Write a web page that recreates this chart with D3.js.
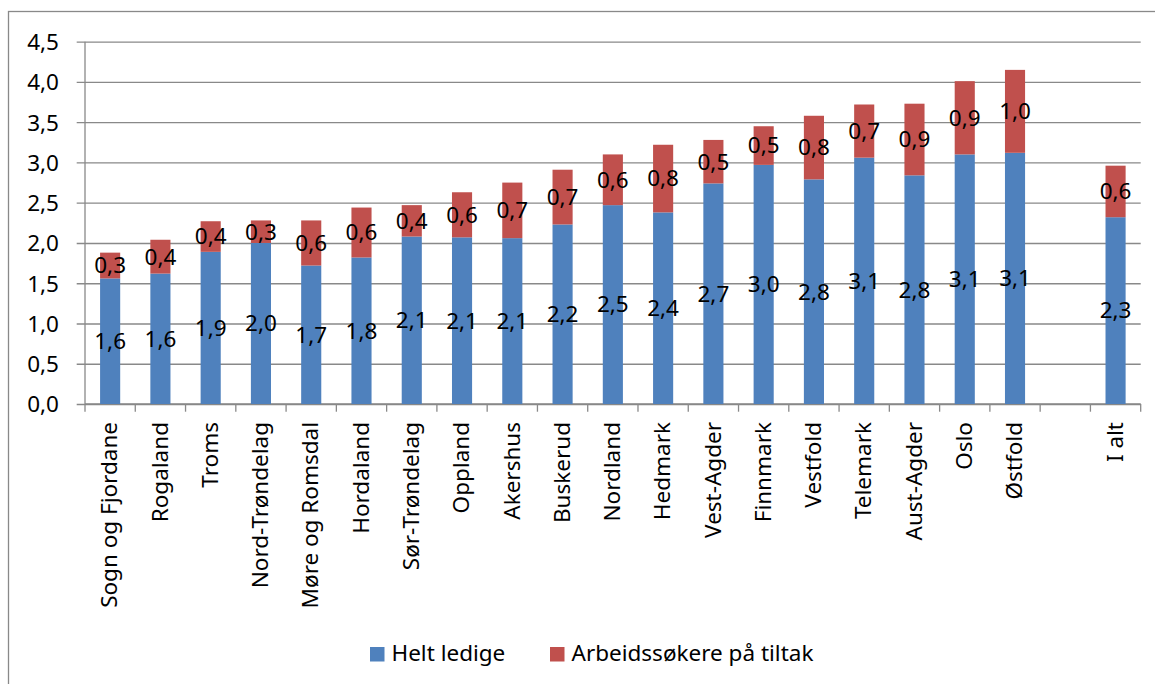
<!DOCTYPE html>
<html>
<head>
<meta charset="utf-8">
<script src="https://cdn.jsdelivr.net/npm/d3@7"></script>
<style>
  body { margin: 0; background: #fff; }
  svg { display: block; }
  text { font-family: "Noto Sans", sans-serif; font-size: 22.5px; fill: #000; }
</style>
</head>
<body>
<script>
// Categories (one empty slot before the total, as in the source chart)
const categories = ['Sogn og Fjordane', 'Rogaland', 'Troms', 'Nord-Trøndelag', 'Møre og Romsdal',
  'Hordaland', 'Sør-Trøndelag', 'Oppland', 'Akershus', 'Buskerud', 'Nordland', 'Hedmark',
  'Vest-Agder', 'Finnmark', 'Vestfold', 'Telemark', 'Aust-Agder', 'Oslo', 'Østfold', '', 'I alt'];

// Series values (percent)
const heltLedige = [1.56, 1.62, 1.89, 2.00, 1.72, 1.82, 2.08, 2.07, 2.06, 2.23, 2.47, 2.38,
  2.74, 2.97, 2.79, 3.06, 2.84, 3.10, 3.12, null, 2.32];
const tiltak = [0.32, 0.42, 0.38, 0.28, 0.56, 0.62, 0.39, 0.56, 0.69, 0.68, 0.63, 0.84,
  0.54, 0.48, 0.79, 0.66, 0.89, 0.91, 1.03, null, 0.64];

const seriesNames = ['Helt ledige', 'Arbeidssøkere på tiltak'];
const yTicks = [0, 0.5, 1, 1.5, 2, 2.5, 3, 3.5, 4, 4.5];

// Dimensions
const width = 1155;
const height = 684;
const plot = { left: 85, right: 1140.7, top: 41.7, bottom: 404 };
const colors = ['#4F81BD', '#C0504D'];
const gridColor = '#898989';

const nb = d3.formatLocale({ decimal: ',', thousands: ' ', grouping: [3], currency: ['', ''] });
const fmt = nb.format('.1f');

const svg = d3.select('body')
  .append('svg')
  .attr('width', width)
  .attr('height', height);

// Outer chart border
svg.append('rect')
  .attr('x', 8.5)
  .attr('y', 11.5)
  .attr('width', 1170)
  .attr('height', 700)
  .attr('fill', '#fff')
  .attr('stroke', gridColor)
  .attr('stroke-width', 1.3);

// Scales
const keys = categories.map((c, i) => i);
const xScale = d3.scaleBand()
  .domain(keys)
  .range([plot.left, plot.right])
  .paddingInner(0.6)
  .paddingOuter(0.3);

const yScale = d3.scaleLinear()
  .domain([0, 4.5])
  .range([plot.bottom, plot.top]);

// Gridlines + y axis
const yAxis = d3.axisLeft(yScale)
  .tickValues(yTicks)
  .tickSize(-(plot.right - plot.left))
  .tickPadding(26)
  .tickFormat(fmt);

const gy = svg.append('g')
  .attr('transform', `translate(${plot.left},0)`)
  .call(yAxis);
gy.select('.domain').remove();
gy.selectAll('.tick line')
  .attr('x1', -8.3)
  .attr('stroke', gridColor)
  .attr('stroke-width', 1.3);
gy.selectAll('.tick text')
  .attr('dy', '0.35em')
  .style('font-size', '22.5px')
  .style('font-family', '"Noto Sans", sans-serif');

// Vertical axis line
svg.append('line')
  .attr('x1', plot.left).attr('x2', plot.left)
  .attr('y1', plot.top).attr('y2', plot.bottom)
  .attr('stroke', gridColor)
  .attr('stroke-width', 1.3);

// X axis with ticks on category boundaries
const step = xScale.step();
const boundaries = d3.range(categories.length + 1).map(i => plot.left + i * (plot.right - plot.left) / categories.length);
svg.append('line')
  .attr('x1', plot.left).attr('x2', plot.right)
  .attr('y1', plot.bottom).attr('y2', plot.bottom)
  .attr('stroke', gridColor)
  .attr('stroke-width', 1.3);
svg.selectAll('.xtick')
  .data(boundaries)
  .enter()
  .append('line')
  .attr('class', 'xtick')
  .attr('x1', d => d).attr('x2', d => d)
  .attr('y1', plot.bottom).attr('y2', plot.bottom + 7.7)
  .attr('stroke', gridColor)
  .attr('stroke-width', 1.3);

// Category labels (rotated)
svg.selectAll('.xlabel')
  .data(categories)
  .enter()
  .append('text')
  .attr('class', 'xlabel')
  .attr('text-anchor', 'end')
  .attr('transform', (d, i) => `translate(${xScale(i) + xScale.bandwidth() / 2},${plot.bottom + 18}) rotate(-90)`)
  .attr('dy', '0.32em')
  .text(d => d);

// Stacked bars
const rows = categories.map((c, i) => ({ i, a: heltLedige[i], b: tiltak[i] }))
  .filter(d => d.a != null);

const bars = svg.append('g');
bars.selectAll('.bar-a')
  .data(rows)
  .enter()
  .append('rect')
  .attr('x', d => xScale(d.i))
  .attr('y', d => yScale(d.a))
  .attr('width', xScale.bandwidth())
  .attr('height', d => yScale(0) - yScale(d.a))
  .attr('fill', colors[0]);

bars.selectAll('.bar-b')
  .data(rows)
  .enter()
  .append('rect')
  .attr('x', d => xScale(d.i))
  .attr('y', d => yScale(d.a + d.b))
  .attr('width', xScale.bandwidth())
  .attr('height', d => yScale(d.a) - yScale(d.a + d.b))
  .attr('fill', colors[1]);

// Data labels centred in each segment
const labels = svg.append('g').attr('text-anchor', 'middle');
labels.selectAll('.lab-a')
  .data(rows)
  .enter()
  .append('text')
  .attr('x', d => xScale(d.i) + xScale.bandwidth() / 2)
  .attr('y', d => (yScale(0) + yScale(d.a)) / 2)
  .attr('dy', '0.35em')
  .text(d => fmt(d.a));

labels.selectAll('.lab-b')
  .data(rows)
  .enter()
  .append('text')
  .attr('x', d => xScale(d.i) + xScale.bandwidth() / 2)
  .attr('y', d => (yScale(d.a) + yScale(d.a + d.b)) / 2)
  .attr('dy', '0.35em')
  .text(d => fmt(d.b));

// Legend
const legendX = [370, 550];
const legend = svg.append('g');
legend.selectAll('.legend-item')
  .data(seriesNames)
  .enter()
  .append('g')
  .attr('transform', (d, i) => `translate(${legendX[i]},647)`)
  .each(function (d, i) {
    d3.select(this)
      .append('rect')
      .attr('width', 14.5)
      .attr('height', 14.5)
      .attr('fill', colors[i]);
    d3.select(this)
      .append('text')
      .attr('x', 21.5)
      .attr('y', 13.7)
      .text(d);
  });
</script>
</body>
</html>
